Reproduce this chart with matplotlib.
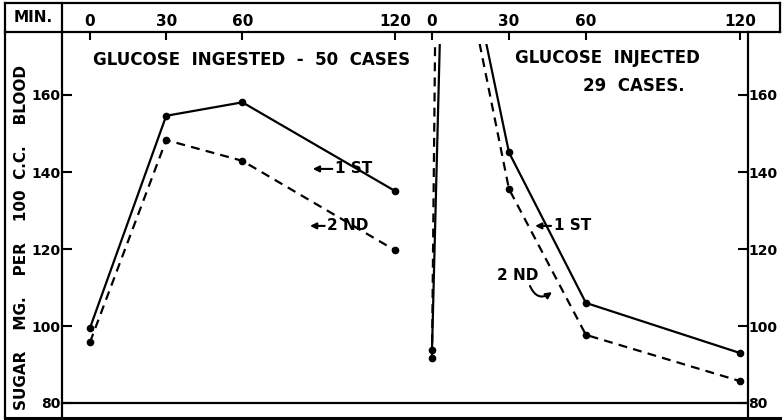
import matplotlib
matplotlib.use("Agg")
import matplotlib.pyplot as plt
from matplotlib.lines import Line2D
from matplotlib.patches import Rectangle

plt.rcParams["font.family"] = ["DejaVu Sans"]

# blood sugar curves (mg per 100 c.c.)
ingest_min = [0, 30, 60, 120]
ingest_1st = [99.5, 154.6, 158.1, 135.1]
ingest_2nd = [95.8, 148.3, 142.9, 119.7]

inject_min = [0, 30, 60, 120]
inject_1st = [93.8, 145.1, 106.0, 93.0]
inject_2nd = [91.6, 135.6, 97.7, 85.7]
# early peak goes off the top of the chart (estimated from the line slopes)
inject_1st_peak = (5, 225)
inject_2nd_peak = (2, 228)

min_ticks = [0, 30, 60, 120]
sugar_ticks = [80, 100, 120, 140, 160]

W, H = 782, 420
fig = plt.figure(figsize=(W / 100, H / 100), dpi=100)


def rect(x0, y0, x1, y1):
    # pixel box (top-left origin) -> figure fraction
    return [x0 / W, 1 - y1 / H, (x1 - x0) / W, (y1 - y0) / H]


def fline(xs, ys, lw=1.6):
    fig.add_artist(Line2D([x / W for x in xs], [1 - y / H for y in ys],
                          transform=fig.transFigure, color="black", lw=lw,
                          solid_capstyle="projecting"))


y_bottom, y_top = 80, 80 + (403 - 32) / 3.85
ax1 = fig.add_axes(rect(62, 32, 413, 403))
ax2 = fig.add_axes(rect(413, 32, 748, 403))
ax1.set_xlim((62 - 90) / 2.54, (413 - 90) / 2.54)
ax2.set_xlim((413 - 432) / 2.565, (748 - 432) / 2.565)

font = dict(fontsize=11, fontweight="bold")
small = dict(fontsize=10, fontweight="bold")
big = dict(fontsize=12, fontweight="bold")
dash = (0, (4, 2.8))

for ax in (ax1, ax2):
    ax.set_ylim(y_bottom, y_top)
    for s in ax.spines.values():
        s.set_visible(False)
    ax.xaxis.tick_top()
    ax.set_xticks(min_ticks)
    ax.set_xticklabels([str(m) for m in min_ticks], **font)
    ax.tick_params(axis="x", direction="in", length=6, width=1.5, pad=2)
    ax.set_yticks(sugar_ticks)
    ax.set_yticklabels([str(v) for v in sugar_ticks], **small)
    ax.tick_params(axis="y", direction="in", length=7, width=1.5, pad=1)

ax2.yaxis.tick_right()
ax2.tick_params(axis="y", pad=0)

# lines are cut a little below the header line
def clip(line, ax):
    x0, x1 = ax.get_xlim()
    line.set_clip_path(Rectangle((x0, 80), x1 - x0, 93.2, transform=ax.transData))

ax1.plot(ingest_min, ingest_1st, color="black", lw=1.6)
ax1.plot(ingest_min, ingest_2nd, color="black", lw=1.6, linestyle=dash)
ax1.plot(ingest_min, ingest_1st, "o", color="black", ms=4.5)
ax1.plot(ingest_min, ingest_2nd, "o", color="black", ms=4.5)

t1 = [inject_min[0], inject_1st_peak[0]] + inject_min[1:]
v1 = [inject_1st[0], inject_1st_peak[1]] + inject_1st[1:]
t2 = [inject_min[0], inject_2nd_peak[0]] + inject_min[1:]
v2 = [inject_2nd[0], inject_2nd_peak[1]] + inject_2nd[1:]
l, = ax2.plot(t1, v1, color="black", lw=1.6)
clip(l, ax2)
l, = ax2.plot(t2, v2, color="black", lw=1.6, linestyle=dash)
clip(l, ax2)
ax2.plot(inject_min, inject_1st, "o", color="black", ms=4.5)
ax2.plot(inject_min, inject_2nd, "o", color="black", ms=4.5)

# panel titles and curve labels
ax1.text(1.2, 169.2, "GLUCOSE  INGESTED  -  50  CASES", ha="left", va="center", **big)
ax2.text(32.2, 169.7, "GLUCOSE  INJECTED", ha="left", va="center", **big)
ax2.text(58.7, 162.4, "29  CASES.", ha="left", va="center", **big)

arrow = dict(arrowstyle="-|>", color="black", lw=1.5, mutation_scale=9, shrinkA=0, shrinkB=0)
ax1.annotate("1 ST", xy=(87.7, 140.8), xytext=(96.5, 140.8), va="center", ha="left",
             arrowprops=arrow, **font)
ax1.annotate("2 ND", xy=(86.6, 126.0), xytext=(93.5, 126.0), va="center", ha="left",
             arrowprops=arrow, **font)
ax2.annotate("1 ST", xy=(40.2, 126.0), xytext=(47.5, 126.0), va="center", ha="left",
             arrowprops=arrow, **font)
ax2.text(25.3, 113.2, "2 ND", ha="left", va="center", **font)
ax2.annotate("", xy=(46.8, 108.8), xytext=(38.2, 110.4),
             arrowprops=dict(arrow, connectionstyle="arc3,rad=0.6"))

# the ruled frame of the original chart
fline([5, 780], [3, 3])
fline([5, 780], [32, 32])
fline([5, 5], [3, 418])
fline([780, 780], [3, 32])
fline([62, 62], [3, 418])
fline([748, 748], [32, 418])
fline([62, 748], [403, 403])
fline([5, 780], [418, 418], lw=2.2)

fig.text(33 / W, 1 - 17 / H, "MIN.", ha="center", va="center", **font)
fig.text(22 / W, 1 - 237 / H, "SUGAR    MG.    PER    100  C.C.    BLOOD",
         rotation=90, ha="center", va="center", **font)

fig.savefig("out.png", dpi=100)
